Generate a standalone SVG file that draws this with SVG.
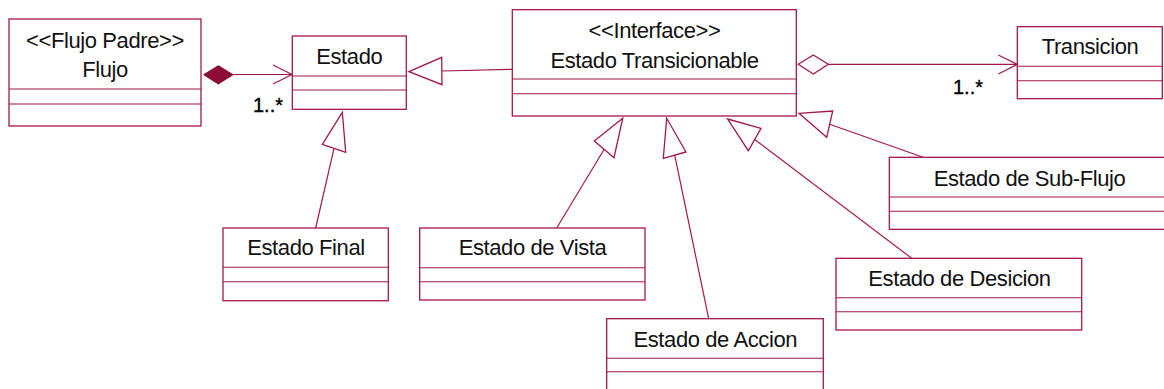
<svg xmlns="http://www.w3.org/2000/svg" width="1164" height="389" viewBox="0 0 1164 389">
<defs>
<style>
.box{fill:#ffffff;stroke:#a3174a;stroke-width:1.3}
.sep{fill:none;stroke:#a3174a;stroke-width:1.1}
.t{font-family:"Liberation Sans",Arial,sans-serif;font-size:22px;letter-spacing:-0.4px;fill:#111111;text-anchor:middle}
.m{font-family:"Liberation Sans",Arial,sans-serif;font-size:20px;fill:#000000;stroke:#000000;stroke-width:0.35}
.ln{fill:none;stroke:#a3174a;stroke-width:1.2}
.tri{fill:#ffffff;stroke:#a3174a;stroke-width:1.3;stroke-linejoin:miter}
.comp{fill:#8c0a35;stroke:#8c0a35;stroke-width:1}
</style>
</defs>
<rect width="1164" height="389" fill="#ffffff"/>

<g id="connectors">
  <!-- composition Flujo -> Estado -->
  <line class="ln" x1="233" y1="74.5" x2="292" y2="74.5"/>
  <polygon class="comp" points="203.7,74.7 218.3,65.7 233,74.7 218.3,84"/>
  <polyline class="ln" points="273,65 292,74.5 273,84"/>
  <text class="m" x="253" y="112">1..*</text>

  <!-- generalization Interface -> Estado -->
  <line class="ln" x1="442" y1="71" x2="512.3" y2="69.3"/>
  <polygon class="tri" points="409,71.7 441.7,57.3 442,84.7"/>

  <!-- aggregation Interface -> Transicion -->
  <line class="ln" x1="828.3" y1="64.4" x2="1017.3" y2="64.4"/>
  <polygon class="tri" points="798.3,64.3 813.3,55 828.3,64.3 813.3,74"/>
  <polyline class="ln" points="998.3,55 1017.3,64.4 998.3,74"/>
  <text class="m" x="953" y="94">1..*</text>

  <!-- Estado Final -> Estado -->
  <line class="ln" x1="334" y1="148.3" x2="315.7" y2="228"/>
  <polygon class="tri" points="342.3,112.3 322.3,144.3 345.7,152.3"/>

  <!-- Estado de Vista -> Interface -->
  <line class="ln" x1="604.2" y1="149.3" x2="556.7" y2="228"/>
  <polygon class="tri" points="622.7,118.3 594.3,141 614,157.7"/>

  <!-- Estado de Accion -> Interface -->
  <line class="ln" x1="674.7" y1="155.2" x2="708.7" y2="318.7"/>
  <polygon class="tri" points="666.7,118.3 663.3,158.3 686,152"/>

  <!-- Estado de Desicion -> Interface -->
  <line class="ln" x1="754.7" y1="139.5" x2="911.7" y2="258.3"/>
  <polygon class="tri" points="727.7,119 761,128.3 748.3,150.7"/>

  <!-- Estado de Sub-Flujo -> Interface -->
  <line class="ln" x1="829.7" y1="124.2" x2="923" y2="157.3"/>
  <polygon class="tri" points="799,113.3 832.7,111 826.7,137.3"/>
</g>

<g id="flujo">
  <rect class="box" x="9" y="19" width="192" height="107"/>
  <line class="sep" x1="9" y1="89" x2="201" y2="89"/>
  <line class="sep" x1="9" y1="104" x2="201" y2="104"/>
  <text class="t" x="105" y="48">&lt;&lt;Flujo Padre&gt;&gt;</text>
  <text class="t" x="105" y="77">Flujo</text>
</g>

<g id="estado">
  <rect class="box" x="292.3" y="36" width="114" height="73.3"/>
  <line class="sep" x1="292.3" y1="76" x2="406.3" y2="76"/>
  <line class="sep" x1="292.3" y1="90" x2="406.3" y2="90"/>
  <text class="t" x="349.3" y="64">Estado</text>
</g>

<g id="estado-transicionable">
  <rect class="box" x="512.3" y="9.7" width="284" height="106.3"/>
  <line class="sep" x1="512.3" y1="79" x2="796.3" y2="79"/>
  <line class="sep" x1="512.3" y1="93.7" x2="796.3" y2="93.7"/>
  <text class="t" x="654.5" y="37.7">&lt;&lt;Interface&gt;&gt;</text>
  <text class="t" x="654.5" y="67.7">Estado Transicionable</text>
</g>

<g id="transicion">
  <rect class="box" x="1017.3" y="26.7" width="145" height="72"/>
  <line class="sep" x1="1017.3" y1="66.3" x2="1162.3" y2="66.3"/>
  <line class="sep" x1="1017.3" y1="80.7" x2="1162.3" y2="80.7"/>
  <text class="t" x="1090" y="54.3">Transicion</text>
</g>

<g id="estado-final">
  <rect class="box" x="223" y="228" width="165.3" height="72.7"/>
  <line class="sep" x1="223" y1="267.3" x2="388.3" y2="267.3"/>
  <line class="sep" x1="223" y1="281.7" x2="388.3" y2="281.7"/>
  <text class="t" x="306" y="255">Estado Final</text>
</g>

<g id="estado-de-vista">
  <rect class="box" x="419.7" y="228" width="225.3" height="72"/>
  <line class="sep" x1="419.7" y1="267.7" x2="645" y2="267.7"/>
  <line class="sep" x1="419.7" y1="281.7" x2="645" y2="281.7"/>
  <text class="t" x="532.5" y="255">Estado de Vista</text>
</g>

<g id="estado-de-accion">
  <rect class="box" x="606.7" y="318.7" width="216.6" height="75"/>
  <line class="sep" x1="606.7" y1="358.3" x2="823.3" y2="358.3"/>
  <line class="sep" x1="606.7" y1="371.7" x2="823.3" y2="371.7"/>
  <text class="t" x="715.3" y="346.7">Estado de Accion</text>
</g>

<g id="estado-de-desicion">
  <rect class="box" x="836" y="258.3" width="245.7" height="71.7"/>
  <line class="sep" x1="836" y1="297.7" x2="1081.7" y2="297.7"/>
  <line class="sep" x1="836" y1="311.7" x2="1081.7" y2="311.7"/>
  <text class="t" x="959.5" y="286">Estado de Desicion</text>
</g>

<g id="estado-de-sub-flujo">
  <rect class="box" x="889.3" y="157.3" width="280.4" height="72"/>
  <line class="sep" x1="889.3" y1="197" x2="1169.7" y2="197"/>
  <line class="sep" x1="889.3" y1="211.3" x2="1169.7" y2="211.3"/>
  <text class="t" x="1029.5" y="185.7">Estado de Sub-Flujo</text>
</g>
</svg>
